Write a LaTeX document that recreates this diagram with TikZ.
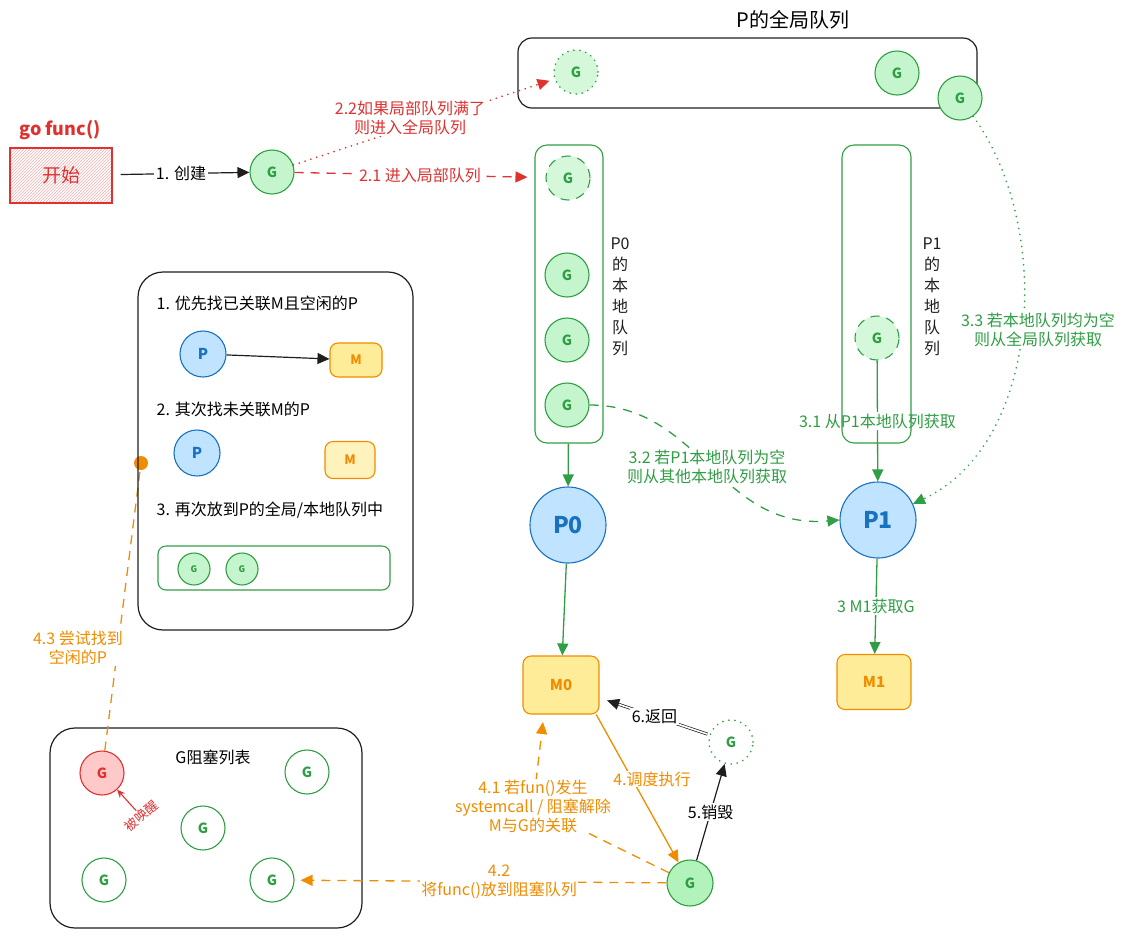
\documentclass[tikz,border=0pt]{standalone}
\usepackage{fontspec}
\setmainfont{Noto Sans CJK SC}
\usetikzlibrary{arrows.meta,calc,patterns}

\definecolor{cgreen}{HTML}{2F9E44}
\definecolor{lgreen}{HTML}{B2F2BB}
\definecolor{cred}{HTML}{E03131}
\definecolor{lred}{HTML}{FFC9C9}
\definecolor{cblue}{HTML}{1971C2}
\definecolor{lblue}{HTML}{A5D8FF}
\definecolor{corange}{HTML}{F08C00}
\definecolor{lyellow}{HTML}{FFEC99}
\definecolor{cink}{HTML}{1E1E1E}

\newcommand{\fs}[1]{\fontsize{#1}{#1}\selectfont}

\tikzset{
  txt/.style={font=\fontsize{16}{19}\selectfont, inner sep=1.5pt, align=center},
  lbl/.style={txt, fill=white},
  gball/.style={circle, draw=cgreen, line width=1.1pt, fill=lgreen!75, text=cgreen,
    minimum size=44pt, inner sep=0pt, font=\fs{14}\bfseries},
  gsmall/.style={gball, minimum size=32pt, font=\fs{9}\bfseries},
  rball/.style={gball, draw=cred, fill=lred, text=cred},
  pbig/.style={circle, draw=cblue, line width=1.1pt, fill=lblue!70, text=cblue,
    minimum size=76pt, inner sep=0pt, font=\fs{23}\bfseries},
  psmall/.style={pbig, minimum size=46pt, font=\fs{15}\bfseries},
  mbox/.style={rectangle, rounded corners=8pt, draw=corange, line width=1.1pt,
    fill=lyellow, text=corange, inner sep=0pt, font=\fs{15}\bfseries},
  qbox/.style={rectangle, rounded corners=12pt, draw=cgreen, line width=1.1pt, inner sep=0pt},
  frame/.style={rectangle, rounded corners=25pt, draw=cink, line width=1.2pt, inner sep=0pt},
  vlabel/.style={font=\fontsize{16}{21}\selectfont, align=center, inner sep=0pt, text=cink},
  inkline/.style={draw=cink, line width=1.2pt},
  gline/.style={draw=cgreen, line width=1.3pt},
  rline/.style={draw=cred, line width=1.3pt},
  oline/.style={draw=corange, line width=1.3pt},
  longdash/.style={dash pattern=on 9pt off 7pt},
  dotline/.style={line width=1.8pt, dash pattern=on 0.1pt off 6pt, line cap=round},
}

\begin{document}
\begin{tikzpicture}[x=1pt, y=-1pt, >={Triangle[length=12pt,width=11pt]}]
\useasboundingbox (0,0) rectangle (1126,938);

% ---------- start ----------
\node[txt, text=cred, font=\fs{18}\bfseries] (gofunc) at (60,130) {go func()};
\node[draw=cred, line width=1.1pt, pattern=north east lines, pattern color=cred!40,
  minimum width=102pt, minimum height=55pt] (start) at (61,175.5) {};
\node[txt, text=cred, font=\fs{19}] (startlbl) at (61,175.5) {开始};
\node[gball] (g0) at (272,172) {G};
\draw[inkline, ->, shorten <=8pt] (start) -- node[lbl] {1. 创建} (g0);

% ---------- global queue ----------
\node[rectangle, rounded corners=14pt, draw=cink, line width=1.2pt,
  minimum width=459pt, minimum height=70pt] (gq) at (747.5,73) {};
\node[txt, font=\fs{20}] (gqt) at (793,20) {P的全局队列};
\node[gball, dotline, fill=lgreen!55] (gg1) at (576,72) {G};
\node[gball] (gg2) at (897,73) {G};
\node[gball] (gg3) at (960,98) {G};

% ---------- processors and machines ----------
\node[pbig] (p0) at (568,525) {P0};
\node[pbig] (p1) at (878,520) {P1};
\node[mbox, minimum width=76pt, minimum height=58pt] (m0) at (561,685) {M0};
\node[mbox, minimum width=74pt, minimum height=55pt] (m1) at (874,682) {M1};

% P1 queue feeds P1 (drawn before the queue outline)
\node[gball, longdash, fill=lgreen!55] (lg1) at (877,338) {G};
\draw[gline, ->] (lg1) -- node[lbl, text=cgreen] {3.1 从P1本地队列获取} (p1);

% ---------- local queues ----------
\node[qbox, minimum width=68pt, minimum height=298pt] (q0) at (569,294) {};
\node[qbox, minimum width=69pt, minimum height=298pt] (q1) at (876.5,294) {};
\node[gball, longdash, fill=lgreen!55] (lg0) at (568,178) {G};
\node[gball] (lg0a) at (567,275) {G};
\node[gball] (lg0b) at (567,340) {G};
\node[gball] (lg0c) at (567,405) {G};
\node[vlabel] (q0lab) at (620,297) {P0\\的\\本\\地\\队\\列};
\node[vlabel] (q1lab) at (932,297) {P1\\的\\本\\地\\队\\列};

% enqueue paths
\draw[rline, longdash, ->, shorten >=18pt] (g0) -- node[lbl, text=cred] {2.1 进入局部队列} (lg0);
\draw[rline, dotline, ->, shorten >=5pt] (g0) -- (gg1);
\node[lbl, text=cred] (l22) at (410,118) {2.2如果局部队列满了\\则进入全局队列};

% stealing / fetching
\draw[gline, dash pattern=on 9pt off 8pt, ->] (lg0c.east) .. controls (700,405) and (720,530) .. (p1.west);
\node[lbl, text=cgreen] (l32) at (707,467) {3.2 若P1本地队列为空\\则从其他本地队列获取};
\draw[gline, dotline, ->] (gg3) .. controls (1055,230) and (1040,445) .. (p1);
\node[lbl, text=cgreen] (l33) at (1038,330) {3.3 若本地队列均为空\\则从全局队列获取};

\draw[gline, ->] (q0) -- (p0);
\draw[gline, ->] (p0) -- (m0);
\draw[gline, ->] (p1) -- node[lbl, text=cgreen] {3 M1获取G} (m1);

% ---------- execution ----------
\node[gball, fill=lgreen, minimum size=46pt] (gb) at (690,883) {G};
\node[gball, dotline, fill=white] (gd) at (731,742) {G};
\draw[oline, ->] (m0.-40) -- (gb);
\draw[inkline, ->] (gb) -- node[lbl] {5.销毁} (gd);
\draw[draw=cink, line width=0.7pt, double=white, double distance=1.6pt, ->, shorten >=8pt, shorten <=2pt]
  (gd) -- node[lbl] {6.返回} (m0);
\coordinate (m0in) at (543,722);
\draw[oline, longdash, ->] (gb) -- (533,806)
  node[lbl, text=corange, inner sep=0.5pt] (l41) {4.1 若fun()发生\\systemcall / 阻塞解除\\M与G的关联} -- (m0in);
\node[lbl, text=corange, inner sep=0.5pt] (l4) at (652,779) {4.调度执行};

% ---------- blocked list ----------
\node[frame, minimum width=312pt, minimum height=200pt] (bl) at (206,828) {};
\node[txt] (blt) at (213,757) {G阻塞列表};
\node[rball] (rg) at (102,773) {G};
\node[gball, fill=white] (bg1) at (307,772) {G};
\node[gball, fill=white] (bg2) at (203,828) {G};
\node[gball, fill=white] (bg3) at (104,880) {G};
\node[gball, fill=white] (bg4) at (272,880) {G};
\node[text=cred, font=\fs{13}, inner sep=1pt, rotate=40] (wake) at (141,816) {被唤醒};
\draw[draw=cred, line width=1.1pt, -{Stealth[length=8pt,width=7pt]}] (wake) -- (rg);
\draw[oline, longdash, ->, shorten >=6pt] (gb) -- node[lbl, text=corange, pos=0.45] {4.2\\将func()放到阻塞队列} (bg4);

% ---------- rescheduling ----------
\node[circle, fill=corange, minimum size=14pt, inner sep=0pt] (dot) at (141,463) {};
\draw[oline, longdash] (rg) -- (dot);
\node[lbl, text=corange] (l43) at (78,648) {4.3 尝试找到\\空闲的P};

\node[frame, minimum width=275pt, minimum height=358pt] (lb) at (275.5,451) {};
\node[txt, anchor=west] (t1) at (155,303) {1. 优先找已关联M且空闲的P};
\node[psmall] (pa) at (203,354) {P};
\node[mbox, minimum width=52pt, minimum height=34pt, font=\fs{13}\bfseries] (ma) at (356,360) {M};
\draw[inkline, ->] (pa) -- (ma);
\node[txt, anchor=west] (t2) at (155,409) {2. 其次找未关联M的P};
\node[psmall] (pb) at (197,453) {P};
\node[mbox, minimum width=50pt, minimum height=37pt, fill=lyellow!65, font=\fs{13}\bfseries] (mb) at (350,460) {M};
\node[txt, anchor=west] (t3) at (155,510) {3. 再次放到P的全局/本地队列中};
\node[qbox, rounded corners=8pt, minimum width=232pt, minimum height=44pt] (sq) at (274,568) {};
\node[gsmall] (sg1) at (194,569) {G};
\node[gsmall] (sg2) at (242,569) {G};
\end{tikzpicture}
\end{document}
